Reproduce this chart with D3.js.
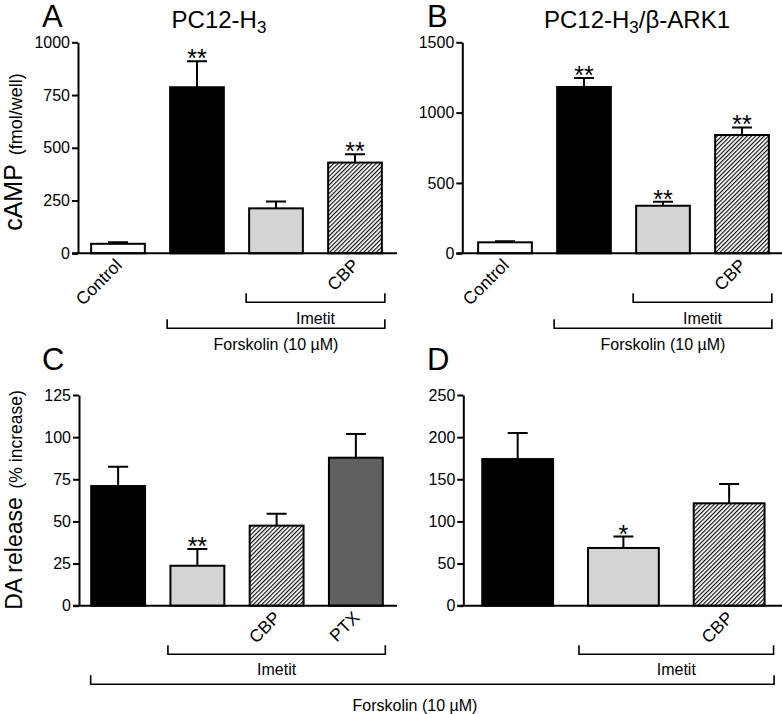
<!DOCTYPE html>
<html>
<head>
<meta charset="utf-8">
<script src="https://cdn.jsdelivr.net/npm/d3@7"></script>
<style>
  body { margin: 0; background: #fff; }
  svg { display: block; font-family: "Liberation Sans", Arial, Helvetica, sans-serif; }
</style>
</head>
<body>
<div id="chart"></div>
<script>
// ---- data ----
const catsAB = ["Control", "Forskolin", "Imetit", "Imetit + CBP"];
const labelsAB = ["Control", "", "", "CBP"];
const fillsAB = ["white", "black", "light", "hatch"];

const valuesA = [45, 787, 213, 430];
const errorsA = [7, 123, 33, 40];
const starsA = ["", "**", "", "**"];
const ticksA = [0, 250, 500, 750, 1000];

const valuesB = [78, 1182, 338, 841];
const errorsB = [7, 64, 29, 54];
const starsB = ["", "**", "**", "**"];
const ticksB = [0, 500, 1000, 1500];

const catsC = ["Forskolin", "Imetit", "Imetit + CBP", "Imetit + PTX"];
const labelsC = ["", "", "CBP", "PTX"];
const fillsC = ["black", "light", "hatch", "dark"];
const valuesC = [71, 23.7, 47.5, 87.8];
const errorsC = [11.5, 10, 7, 14];
const starsC = ["", "**", "", ""];
const ticksC = [0, 25, 50, 75, 100, 125];

const catsD = ["Forskolin", "Imetit", "Imetit + CBP"];
const labelsD = ["", "", "CBP"];
const fillsD = ["black", "light", "hatch"];
const valuesD = [174, 68.5, 121.5];
const errorsD = [31, 13.5, 23];
const starsD = ["", "*", ""];
const ticksD = [0, 50, 100, 150, 200, 250];

const bracketsAB = [
  {label: "Imetit", from: 2, to: 3, level: 1},
  {label: "Forskolin (10 \u00b5M)", from: 1, to: 3, level: 2}
];
const bracketsC = [{label: "Imetit", from: 1, to: 3, level: 1}];
const bracketsD = [{label: "Imetit", from: 1, to: 2, level: 1}];

// ---- drawing ----
const W = 782, H = 714;
const colors = {white: "#fff", black: "#000", light: "#d4d4d4", dark: "#606060", hatch: "url(#hatch)"};

const svg = d3.select("#chart").append("svg")
  .attr("width", W).attr("height", H);

const defs = svg.append("defs");
defs.append("pattern")
  .attr("id", "hatch")
  .attr("patternUnits", "userSpaceOnUse")
  .attr("width", 3).attr("height", 3)
  .attr("patternTransform", "rotate(45)")
  .call(p => {
    p.append("rect").attr("width", 3).attr("height", 3).attr("fill", "#fff");
    p.append("line").attr("x1", 0.6).attr("y1", 0).attr("x2", 0.6).attr("y2", 3)
      .attr("stroke", "#000").attr("stroke-width", 1.1);
  });

function drawPanel(p) {
  const g = svg.append("g");
  const x = d3.scaleBand().domain(p.cats).range(p.xRange)
    .paddingInner(p.pad).paddingOuter(p.pad / 2);
  const y = d3.scaleLinear().domain([0, p.ticks[p.ticks.length - 1]]).range(p.yRange);

  // y axis
  const ax = g.append("g")
    .attr("transform", `translate(${p.axisX},0)`)
    .call(d3.axisLeft(y).tickValues(p.ticks).tickFormat(d3.format("d"))
      .tickSize(6).tickPadding(2).tickSizeOuter(0));
  ax.select(".domain").attr("stroke-width", 2);
  ax.selectAll(".tick line").attr("stroke-width", 2);
  ax.selectAll(".tick text").attr("font-size", 16).attr("fill", "#000")
    .attr("font-family", "Liberation Sans, Arial, sans-serif");

  // bars
  g.selectAll(".bar").data(p.cats).join("rect")
    .attr("x", d => x(d))
    .attr("y", (d, i) => y(p.values[i]))
    .attr("width", x.bandwidth())
    .attr("height", (d, i) => y(0) - y(p.values[i]))
    .attr("fill", (d, i) => colors[p.fills[i]])
    .attr("stroke", "#000").attr("stroke-width", 2);

  // error bars
  const cx = d => x(d) + x.bandwidth() / 2;
  g.selectAll(".err").data(p.cats).join("path")
    .attr("d", (d, i) => {
      const top = y(p.values[i] + p.errors[i]);
      return `M${cx(d)},${y(p.values[i])}V${top}M${cx(d) - 10},${top}H${cx(d) + 10}`;
    })
    .attr("fill", "none").attr("stroke", "#000").attr("stroke-width", 2);

  // significance stars
  g.selectAll(".star").data(p.cats).join("text")
    .attr("x", cx)
    .attr("y", (d, i) => y(p.values[i] + p.errors[i]) + 6)
    .attr("text-anchor", "middle").attr("font-size", 25)
    .text((d, i) => p.stars[i]);

  // x baseline
  g.append("line")
    .attr("x1", p.axisX - 6).attr("x2", p.axisEnd)
    .attr("y1", y(0)).attr("y2", y(0))
    .attr("stroke", "#000").attr("stroke-width", 2);

  // rotated category labels
  g.selectAll(".cat").data(p.cats).join("text")
    .attr("transform", d => `translate(${cx(d) + 5},${y(0) + 13}) rotate(-45)`)
    .attr("text-anchor", "end").attr("font-size", 17.5)
    .text((d, i) => p.labels[i]);

  // brackets
  (p.brackets || []).forEach(b => {
    const x1 = x(p.cats[b.from]) - p.bpad;
    const x2 = x(p.cats[b.to]) + x.bandwidth() + p.bpad;
    const by = y(0) + p.levels[b.level - 1];
    g.append("path")
      .attr("d", `M${x1},${by - 9}V${by}H${x2}V${by - 9}`)
      .attr("fill", "none").attr("stroke", "#000").attr("stroke-width", 1.6);
    g.append("text")
      .attr("x", (x1 + x2) / 2).attr("y", by + p.labelGap[b.level - 1])
      .attr("text-anchor", "middle").attr("font-size", 16)
      .text(b.label);
  });

  // axis title
  if (p.yTitle) {
    const t = svg.append("text")
      .attr("transform", `translate(22,${p.titleY}) rotate(-90)`)
      .attr("text-anchor", "middle");
    t.append("tspan").attr("font-size", p.yTitle[2]).text(p.yTitle[0]);
    t.append("tspan").attr("font-size", p.yTitle[3]).text("\u2002" + p.yTitle[1]);
  }

  svg.append("text").attr("x", p.letter[1]).attr("y", p.letter[2])
    .attr("font-size", 31).text(p.letter[0]);

  return {x, y, cx};
}

const A = drawPanel({
  cats: catsAB, labels: labelsAB, fills: fillsAB, values: valuesA, errors: errorsA,
  stars: starsA, ticks: ticksA, brackets: bracketsAB,
  xRange: [78.5, 394.5], yRange: [253.3, 42.3], pad: 0.32, axisX: 78, axisEnd: 397,
  bpad: 3, levels: [49, 75], labelGap: [22, 22],
  yTitle: ["cAMP", "(fmol/well)", 25, 18], titleY: 152, letter: ["A", 42, 27]
});
const B = drawPanel({
  cats: catsAB, labels: labelsAB, fills: fillsAB, values: valuesB, errors: errorsB,
  stars: starsB, ticks: ticksB, brackets: bracketsAB,
  xRange: [465.5, 781.5], yRange: [253.3, 42.3], pad: 0.32, axisX: 462.3, axisEnd: 782,
  bpad: 3, levels: [49, 75], labelGap: [22, 22],
  letter: ["B", 427, 27]
});
const C = drawPanel({
  cats: catsC, labels: labelsC, fills: fillsC, values: valuesC, errors: errorsC,
  stars: starsC, ticks: ticksC, brackets: bracketsC,
  xRange: [78.5, 395.5], yRange: [605.7, 395], pad: 0.32, axisX: 79, axisEnd: 397,
  bpad: 2.5, levels: [48.6], labelGap: [21],
  yTitle: ["DA release", "(% increase)", 23, 17.5], titleY: 500, letter: ["C", 42, 370]
});
const D = drawPanel({
  cats: catsD, labels: labelsD, fills: fillsD, values: valuesD, errors: errorsD,
  stars: starsD, ticks: ticksD, brackets: bracketsD,
  xRange: [464.8, 782], yRange: [605.7, 395], pad: 0.33, axisX: 463.3, axisEnd: 782,
  bpad: 9, levels: [48.6], labelGap: [21],
  letter: ["D", 427, 370]
});

// forskolin bracket spanning panels C and D
{
  const x1 = C.x(catsC[0]) - 0.5;
  const x2 = D.x(catsD[2]) + D.x.bandwidth() + 9.5;
  const by = C.y(0) + 78.6;
  svg.append("path")
    .attr("d", `M${x1},${by - 9}V${by}H${x2}V${by - 9}`)
    .attr("fill", "none").attr("stroke", "#000").attr("stroke-width", 1.6);
  svg.append("text").attr("x", 415).attr("y", by + 27)
    .attr("text-anchor", "middle").attr("font-size", 16)
    .text("Forskolin (10 \u00b5M)");
}

// panel titles
function title(cx, parts) {
  const t = svg.append("text").attr("x", cx).attr("y", 28)
    .attr("text-anchor", "middle").attr("font-size", 24);
  parts.forEach(([s, sub], i) => {
    t.append("tspan").attr("font-size", sub ? 17 : 24)
      .attr("dy", sub ? 5 : (i > 0 ? -5 : 0))
      .text(s);
  });
}
title(219, [["PC12-H"], ["3", true]]);
title(637, [["PC12-H"], ["3", true], ["/\u03b2-ARK1"]]);
</script>
</body>
</html>
